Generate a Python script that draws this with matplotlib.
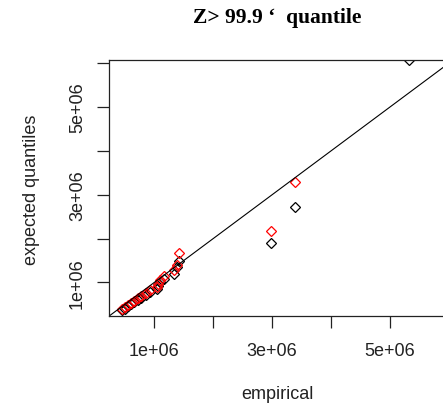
import matplotlib
matplotlib.use("Agg")
import matplotlib.pyplot as plt

# empirical vs expected quantiles, values in units of 1e6
emp_black = [0.45, 0.50, 0.55, 0.60, 0.66, 0.72, 0.78, 0.85, 0.92, 1.05, 1.07, 1.10,
             1.17, 1.33, 1.38, 1.42, 2.98, 3.39, 5.32]
exp_black = [0.36, 0.40, 0.45, 0.50, 0.56, 0.60, 0.65, 0.72, 0.78, 0.85, 0.92, 1.00,
             1.08, 1.20, 1.36, 1.48, 1.89, 2.73, 6.07]
emp_red = [0.45, 0.50, 0.55, 0.60, 0.66, 0.72, 0.78, 0.85, 0.92, 1.05, 1.07, 1.10,
           1.17, 1.33, 1.38, 1.42, 2.98, 3.39]
exp_red = [0.40, 0.44, 0.48, 0.53, 0.58, 0.64, 0.69, 0.76, 0.83, 0.90, 0.97, 1.06,
           1.14, 1.28, 1.40, 1.66, 2.18, 3.30]

x_ticks = [1, 2, 3, 4, 5]
y_ticks = [1, 2, 3, 4, 5, 6]
shown_labels = {1: "1e+06", 3: "3e+06", 5: "5e+06"}

W, H = 443, 406
fig = plt.figure(figsize=(W / 100, H / 100), dpi=100)
left, right, top, bottom = 109, 445, 60.7, 316.7
ax = fig.add_axes([left / W, 1 - bottom / H, (right - left) / W, (bottom - top) / H])

scale = 1e6
ax.plot([v * scale for v in emp_black], [v * scale for v in exp_black], "D",
        mfc="none", mec="black", ms=5.5, mew=0.9)
ax.plot([v * scale for v in emp_red], [v * scale for v in exp_red], "D",
        mfc="none", mec="red", ms=5.5, mew=0.9)
ax.axline((0, 0), slope=1, color="black", lw=0.8)

ax.set_xlim(0.23 * scale, 5.935 * scale)
ax.set_ylim(0.24 * scale, 6.08 * scale)

ax.set_xticks([t * scale for t in x_ticks])
ax.set_xticklabels([shown_labels.get(t, "") for t in x_ticks])
ax.set_yticks([t * scale for t in y_ticks])
ax.set_yticklabels([shown_labels.get(t, "") for t in y_ticks], rotation=90, va="center")

for s in ax.spines.values():
    s.set_linewidth(0.9)
    s.set_color("#222222")
ax.tick_params(direction="out", length=8.6, width=0.9, color="#222222",
               labelsize=13, labelcolor="#222222", pad=8)
ax.tick_params(axis="x", pad=10)
for lab in ax.get_xticklabels() + ax.get_yticklabels():
    lab.set_family("Liberation Sans")

fig.text(277 / W, 1 - 18 / H, "Z> 99.9 \u2018  quantile", ha="center", va="center",
         family="Liberation Serif", weight="bold", fontsize=15.5)
fig.text(277 / W, 1 - 395 / H, "empirical", ha="center", va="center",
         family="Liberation Sans", fontsize=13, color="#222222")
fig.text(32 / W, 1 - 190 / H, "expected quantiles", ha="center", va="center",
         rotation=90, family="Liberation Sans", fontsize=13, color="#222222")

fig.savefig("out.png", dpi=100)
